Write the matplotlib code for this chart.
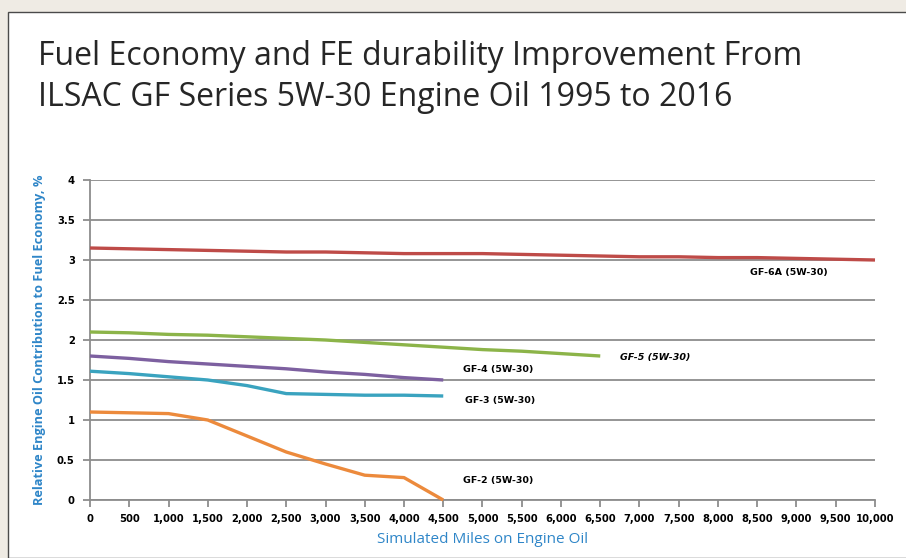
import matplotlib

matplotlib.use("Agg")
import matplotlib.pyplot as plt
from matplotlib.patches import Rectangle
from matplotlib.ticker import FuncFormatter

# ---------------------------------------------------------------------------
# Data (relative FE contribution, %).
# ---------------------------------------------------------------------------
miles_gf6a = [0, 500, 1000, 1500, 2000, 2500, 3000, 3500, 4000, 4500, 5000,
              5500, 6000, 6500, 7000, 7500, 8000, 8500, 9000, 9500, 10000]
fe_gf6a = [3.15, 3.14, 3.13, 3.12, 3.11, 3.10, 3.10, 3.09, 3.08, 3.08, 3.08,
           3.07, 3.06, 3.05, 3.04, 3.04, 3.03, 3.03, 3.02, 3.01, 3.00]

miles_gf5 = [0, 500, 1000, 1500, 2000, 2500, 3000, 3500, 4000, 4500, 5000,
             5500, 6000, 6500]
fe_gf5 = [2.10, 2.09, 2.07, 2.06, 2.04, 2.02, 2.00, 1.97, 1.94, 1.91, 1.88,
          1.86, 1.83, 1.80]

miles_gf4 = [0, 500, 1000, 1500, 2000, 2500, 3000, 3500, 4000, 4500]
fe_gf4 = [1.80, 1.77, 1.73, 1.70, 1.67, 1.64, 1.60, 1.57, 1.53, 1.50]

miles_gf3 = [0, 500, 1000, 1500, 2000, 2500, 3000, 3500, 4000, 4500]
fe_gf3 = [1.61, 1.58, 1.54, 1.50, 1.43, 1.33, 1.32, 1.31, 1.31, 1.30]

miles_gf2 = [0, 500, 1000, 1500, 2000, 2500, 3000, 3500, 4000, 4500]
fe_gf2 = [1.10, 1.09, 1.08, 1.00, 0.80, 0.60, 0.45, 0.31, 0.28, 0.00]

x_ticks = list(range(0, 10001, 500))
y_ticks = [0, 0.5, 1, 1.5, 2, 2.5, 3, 3.5, 4]

TITLE = "Fuel Economy and FE durability Improvement From\nILSAC GF Series 5W-30 Engine Oil 1995 to 2016"
TICK_FONT = ["Verdana", "DejaVu Sans"]
BLUE = "#2f86c8"

# ---------------------------------------------------------------------------
# Slide frame.
# ---------------------------------------------------------------------------
fig = plt.figure(figsize=(9.06, 5.58), dpi=100, facecolor="#efebe4")
fig.patches.append(Rectangle((7.5 / 906, 0), 1.0, 1 - 11.5 / 558,
                             transform=fig.transFigure, facecolor="white",
                             edgecolor="#4a4a4a", linewidth=1.0, zorder=-5))

fig.text(38 / 906, 1 - 40 / 558, TITLE, ha="left", va="top",
         fontsize=23, family=["Open Sans", "DejaVu Sans"], color="#262626",
         linespacing=1.3)

ax = fig.add_axes([90 / 906, 1 - 500 / 558, 785 / 906, 320 / 558])
ax.set_facecolor("none")

series = [
    (miles_gf6a, fe_gf6a, "#be4b48"),
    (miles_gf5, fe_gf5, "#8cb449"),
    (miles_gf4, fe_gf4, "#7d60a0"),
    (miles_gf3, fe_gf3, "#3aa3bf"),
    (miles_gf2, fe_gf2, "#ec8a3c"),
]
for xs, ys, color in series:
    ax.plot(xs, ys, color=color, linewidth=2.4, solid_capstyle="butt", zorder=3,
            clip_on=False)

ax.set_xlim(0, 10000)
ax.set_ylim(0, 4)
ax.set_xticks(x_ticks)
ax.set_yticks(y_ticks)
ax.xaxis.set_major_formatter(FuncFormatter(lambda v, _: f"{int(v):,}"))
ax.yaxis.set_major_formatter(FuncFormatter(lambda v, _: f"{v:g}"))
ax.grid(axis="y", color="#8c8c8c", linewidth=1.3)
ax.set_axisbelow(True)
for side in ("top", "right"):
    ax.spines[side].set_visible(False)
for side in ("left", "bottom"):
    ax.spines[side].set_color("#8c8c8c")
    ax.spines[side].set_linewidth(1.3)
ax.tick_params(axis="both", colors="#8c8c8c", width=1.3, length=5,
               labelcolor="black", labelsize=7.2)
ax.tick_params(axis="x", pad=5)
ax.tick_params(axis="y", pad=6)
for lbl in ax.get_xticklabels() + ax.get_yticklabels():
    lbl.set_fontweight("bold")
    lbl.set_family(TICK_FONT)

ax.set_xlabel("Simulated Miles on Engine Oil", fontsize=11, color=BLUE,
              family=["Open Sans", "DejaVu Sans"], labelpad=6)
ax.set_ylabel("Relative Engine Oil Contribution to Fuel Economy, %", fontsize=9.2,
              color=BLUE, fontweight="bold", family=["Open Sans", "DejaVu Sans"],
              labelpad=8)

# Series labels.
label_kw = dict(fontsize=6.8, fontweight="bold", family=TICK_FONT, va="center")
ax.text(8900, 2.84, "GF-6A (5W-30)", ha="center", **label_kw)
ax.text(7200, 1.78, "GF-5 (5W-30)", ha="center", style="italic", **label_kw)
ax.text(5200, 1.63, "GF-4 (5W-30)", ha="center", **label_kw)
ax.text(5220, 1.24, "GF-3 (5W-30)", ha="center", **label_kw)
ax.text(5200, 0.25, "GF-2 (5W-30)", ha="center", **label_kw)

fig.savefig("out.png", dpi=100, facecolor=fig.get_facecolor())
